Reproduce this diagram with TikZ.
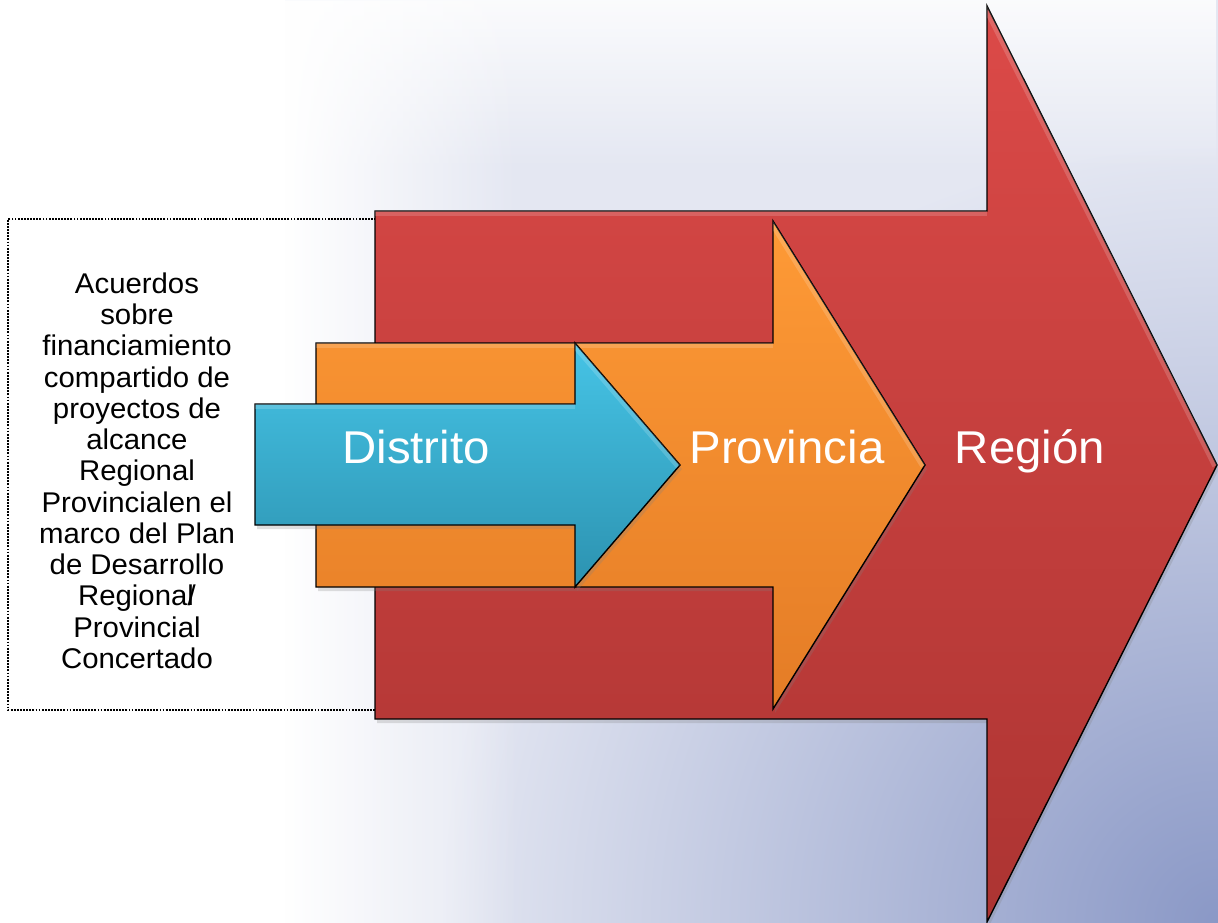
\documentclass[tikz,border=0pt]{standalone}
\usepackage{fontspec}
\setmainfont{Liberation Sans}[FakeStretch=1.03]
\usetikzlibrary{shadows,fadings}
\definecolor{bgMid}{RGB}{228,231,242}
\definecolor{bgBot}{RGB}{138,152,198}
\definecolor{redTop}{RGB}{220,74,72}
\definecolor{redBot}{RGB}{172,52,50}
\definecolor{orgTop}{RGB}{254,154,54}
\definecolor{orgBot}{RGB}{228,124,38}
\definecolor{bluTop}{RGB}{70,196,230}
\definecolor{bluBot}{RGB}{44,146,176}
\tikzfading[name=fadeWhiteRight, left color=transparent!0, right color=transparent!100]
\tikzfading[name=fadeWhiteDown, top color=transparent!15, bottom color=transparent!100]
\begin{document}
\begin{tikzpicture}[x=1pt,y=-1pt,
  arrowshape/.style={draw=black, line width=1.4pt, line join=miter,
    drop shadow={opacity=0.25, shadow xshift=2pt, shadow yshift=-4pt}},
  bevel/.style={line width=10pt, white, opacity=0.16},
  lbl/.style={text=white, font=\fontsize{46}{55}\selectfont, anchor=base, inner sep=0pt},
  dotbox/.style={draw=black, line width=2.6pt, dash pattern=on 1.8pt off 1.3pt}]
\useasboundingbox (0,0) rectangle (1218,923);
% background
\fill[bgMid] (0,0) rectangle (1218,923);
\begin{scope}
  \clip (0,0) rectangle (1218,923);
  \shade[inner color=bgBot, outer color=bgMid] (1218,923) circle (780);
\end{scope}
\fill[white, path fading=fadeWhiteDown] (0,0) rectangle (1218,170);
\fill[white] (0,0) rectangle (285,923);
\fill[white, path fading=fadeWhiteRight] (285,0) rectangle (520,923);
% dotted frame
\draw[dotbox] (376,219) -- (8,219) -- (8,710) -- (376,710);
% red arrow
\draw[arrowshape, top color=redTop, bottom color=redBot]
  (375,211) -- (987,211) -- (987,6) -- (1217,465) -- (987,922) -- (987,719) -- (375,719) -- cycle;
\begin{scope}
  \clip (375,211) -- (987,211) -- (987,6) -- (1217,465) -- (987,922) -- (987,719) -- (375,719) -- cycle;
  \draw[bevel] (375,211) -- (987,211);
  \draw[bevel] (987,6) -- (1217,465);
\end{scope}
% orange arrow
\draw[arrowshape, top color=orgTop, bottom color=orgBot]
  (316,343) -- (773,343) -- (773,221) -- (925,465) -- (773,709) -- (773,587) -- (316,587) -- cycle;
\begin{scope}
  \clip (316,343) -- (773,343) -- (773,221) -- (925,465) -- (773,709) -- (773,587) -- (316,587) -- cycle;
  \draw[bevel] (316,343) -- (773,343);
  \draw[bevel] (773,221) -- (925,465);
\end{scope}
% blue arrow
\draw[arrowshape, top color=bluTop, bottom color=bluBot]
  (255,404) -- (575,404) -- (575,343) -- (680,465) -- (575,587) -- (575,525) -- (255,525) -- cycle;
\begin{scope}
  \clip (255,404) -- (575,404) -- (575,343) -- (680,465) -- (575,587) -- (575,525) -- (255,525) -- cycle;
  \draw[bevel] (255,404) -- (575,404);
  \draw[bevel] (575,343) -- (680,465);
\end{scope}
% labels
\node[lbl] (distrito) at (416,463) {Distrito};
\node[lbl] (provincia) at (787,463) {Provincia};
\node[lbl] (region) at (1030,463) {Región};
\node[font=\fontsize{28.5}{31.25}\selectfont, align=center, anchor=north, inner sep=0pt] (acuerdos) at (137,272.6)
  {Acuerdos\\sobre\\financiamiento\\compartido de\\proyectos de\\alcance\\Regional\\Provincialen el\\marco del Plan\\de Desarrollo\\Regional\kern-0.22em/\\Provincial\\Concertado};
\end{tikzpicture}
\end{document}
